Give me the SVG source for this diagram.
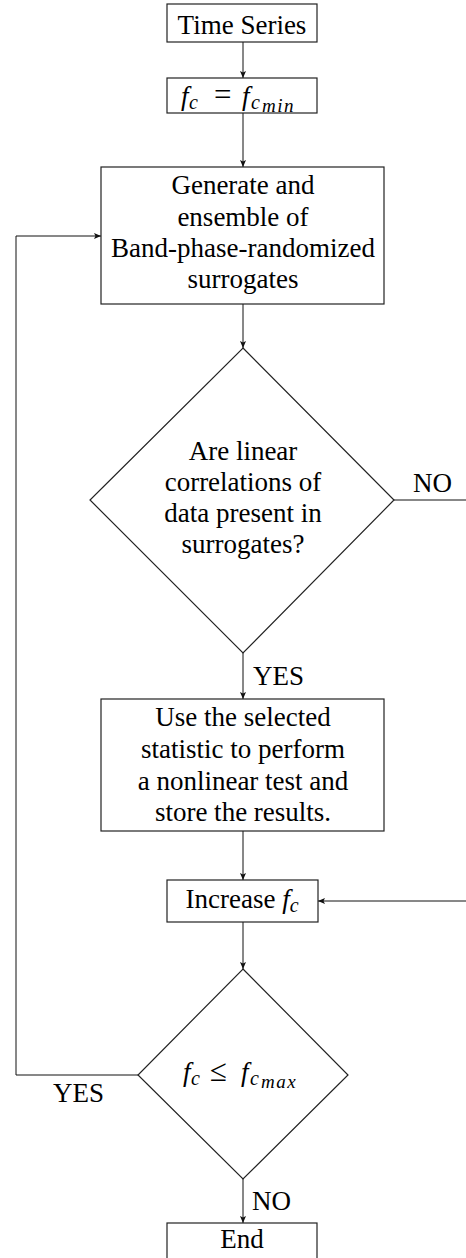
<svg xmlns="http://www.w3.org/2000/svg" width="466" height="1258" viewBox="0 0 466 1258">
<style>
.t{font-family:"Liberation Serif","Times New Roman",serif;font-size:27px;fill:#000}
.c{text-anchor:middle}
.i{font-style:italic}
.box{fill:#fff;stroke:#222;stroke-width:1.2}
.ln{fill:none;stroke:#111;stroke-width:1}
.sub{font-style:italic;font-size:20px}
.ss{font-style:italic;font-size:19px;letter-spacing:1.5px}
</style>
<defs>
<marker id="ah" markerUnits="userSpaceOnUse" markerWidth="7" markerHeight="6" refX="7" refY="3" orient="auto">
<path d="M0,0 L7,3 L0,6 L1.5,3 z" fill="#111"/>
</marker>
</defs>
<rect width="466" height="1258" fill="#fff"/>
<g id="connectors">
<path class="ln" d="M243,42 V78" marker-end="url(#ah)"/>
<path class="ln" d="M243,113 V167" marker-end="url(#ah)"/>
<path class="ln" d="M243,304 V348" marker-end="url(#ah)"/>
<path class="ln" d="M394,500 H468 V901 H318" marker-end="url(#ah)"/>
<path class="ln" d="M243,653 V699" marker-end="url(#ah)"/>
<path class="ln" d="M243,831 V880" marker-end="url(#ah)"/>
<path class="ln" d="M243,922 V969" marker-end="url(#ah)"/>
<path class="ln" d="M138,1075 H16 V236 H101" marker-end="url(#ah)"/>
<path class="ln" d="M243,1179 V1223" marker-end="url(#ah)"/>
<text class="t" x="413" y="492">NO</text>
<text class="t" x="253" y="685">YES</text>
<text class="t" x="53" y="1102">YES</text>
<text class="t" x="252" y="1210">NO</text>
</g>
<g id="start">
<rect class="box" x="167" y="4" width="150" height="38"/>
<text class="t c" x="242" y="34">Time Series</text>
</g>
<g id="init">
<rect class="box" x="167" y="78" width="150" height="35"/>
<text class="t"><tspan class="i" x="181" y="105">f</tspan><tspan class="sub" x="189" y="109">c</tspan><tspan x="214" y="105" font-size="31">=</tspan><tspan class="i" x="242" y="105">f</tspan><tspan class="sub" x="251" y="109">c</tspan><tspan class="ss" x="262" y="112">min</tspan></text>
</g>
<g id="generate">
<rect class="box" x="101" y="167" width="283" height="137"/>
<text class="t c" x="243" y="194">Generate and</text>
<text class="t c" x="243" y="226">ensemble of</text>
<text class="t c" x="243" y="257">Band-phase-randomized</text>
<text class="t c" x="243" y="288">surrogates</text>
</g>
<g id="decision1">
<polygon class="box" points="243,348 394,500 243,653 90,500"/>
<text class="t c" x="243" y="460">Are linear</text>
<text class="t c" x="243" y="491">correlations of</text>
<text class="t c" x="243" y="522">data present in</text>
<text class="t c" x="243" y="553">surrogates?</text>
</g>
<g id="test">
<rect class="box" x="101" y="699" width="283" height="132"/>
<text class="t c" x="243" y="726">Use the selected</text>
<text class="t c" x="243" y="758">statistic to perform</text>
<text class="t c" x="243" y="790">a nonlinear test and</text>
<text class="t c" x="243" y="821">store the results.</text>
</g>
<g id="increase">
<rect class="box" x="167" y="880" width="151" height="42"/>
<text class="t c" x="242" y="908">Increase  <tspan class="i">f</tspan><tspan class="sub" dy="4">c</tspan></text>
</g>
<g id="decision2">
<polygon class="box" points="243,969 348,1075 243,1179 138,1075"/>
<text class="t"><tspan class="i" x="183" y="1081">f</tspan><tspan class="sub" x="191" y="1085">c</tspan><tspan x="210" y="1081" font-size="31">≤</tspan><tspan class="i" x="241" y="1081">f</tspan><tspan class="sub" x="250" y="1085">c</tspan><tspan class="ss" x="261" y="1088">max</tspan></text>
</g>
<g id="end">
<rect class="box" x="167" y="1223" width="150" height="45"/>
<text class="t c" x="242" y="1248">End</text>
</g>
</svg>
